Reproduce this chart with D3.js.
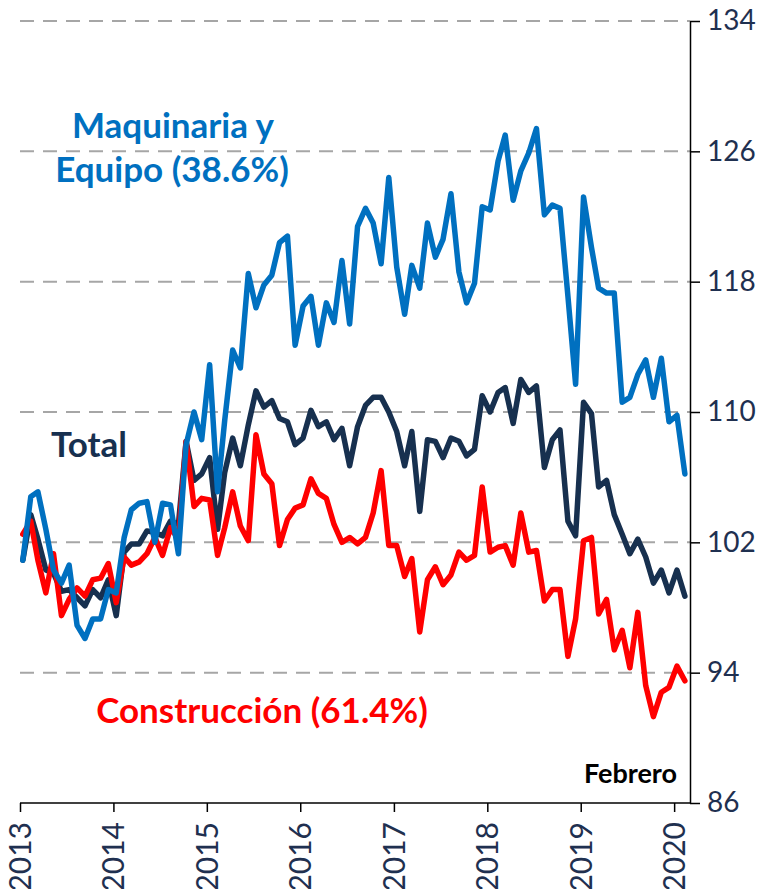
<!DOCTYPE html>
<html lang="es">
<head>
<meta charset="utf-8"/>
<title>Inversión fija bruta</title>
<script src="https://d3js.org/d3.v7.min.js"></script>
<style>
body { margin: 0; background: #fff; }
.grid line { stroke: #a6a6a6; stroke-width: 2; stroke-dasharray: 14, 9; }
.axis path, .axis line { stroke: #000; stroke-width: 1.5; }
.axis text { font-family: Lato, "Open Sans", sans-serif; fill: #1f3050; }
.serie { fill: none; stroke-width: 5.5; stroke-linejoin: round; stroke-linecap: round; }
.lbl { font-family: Lato, "Open Sans", sans-serif; font-weight: bold; }
</style>
</head>
<body>
<div id="chart"></div>
<script>
// monthly values, Jan 2013 .. Feb 2020
var totalValues = [
  100.9, 103.7, 102.2, 100.3, 100.1, 99.0, 99.1, 98.6, 98.1, 99.1, 98.6, 99.7,
  97.5, 101.4, 101.9, 101.9, 102.7, 102.6, 102.4, 103.3, 103.1, 108.2, 105.8, 106.2,
  107.2, 102.8, 106.3, 108.4, 106.7, 109.2, 111.3, 110.3, 110.7, 109.6, 109.4, 108.0,
  108.4, 110.1, 109.1, 109.4, 108.3, 109.0, 106.7, 109.1, 110.4, 110.9, 110.9, 110.0,
  108.8, 106.7, 108.8, 103.9, 108.3, 108.2, 107.2, 108.4, 108.2, 107.3, 107.7, 111.0,
  110.0, 111.2, 111.5, 109.3, 112.0, 111.2, 111.6, 106.6, 108.3, 108.9, 103.3, 102.4,
  110.6, 109.9, 105.4, 105.8, 103.7, 102.5, 101.3, 102.2, 101.1, 99.5, 100.3, 98.9,
  100.3, 98.7
];
var maquinariaValues = [
  100.9, 104.8, 105.1, 102.8, 100.3, 99.5, 100.6, 96.9, 96.1, 97.3, 97.3, 99.1,
  98.9, 102.3, 104.0, 104.4, 104.5, 102.0, 104.4, 104.3, 101.3, 108.0, 110.0, 108.3,
  112.9, 105.1, 109.5, 113.8, 112.7, 118.5, 116.4, 117.8, 118.4, 120.4, 120.8, 114.1,
  116.5, 117.1, 114.1, 116.7, 115.5, 119.3, 115.4, 121.4, 122.5, 121.6, 119.1, 124.4,
  118.9, 116.0, 119.0, 117.6, 121.6, 119.5, 120.6, 123.4, 118.6, 116.7, 117.9, 122.6,
  122.4, 125.4, 127.0, 123.0, 124.8, 125.9, 127.4, 122.1, 122.7, 122.5, 117.1, 111.7,
  123.2, 120.1, 117.6, 117.3, 117.3, 110.6, 110.9, 112.3, 113.2, 110.9, 113.3, 109.4,
  109.8, 106.2
];
var construccionValues = [
  102.5, 103.3, 100.9, 98.9, 101.3, 97.5, 98.5, 99.2, 98.7, 99.7, 99.8, 100.7,
  98.3, 101.1, 100.6, 100.8, 101.3, 102.3, 101.2, 102.9, 102.2, 108.2, 104.2, 104.7,
  104.6, 101.2, 102.9, 105.1, 103.0, 102.1, 108.6, 106.2, 105.6, 101.8, 103.4, 104.1,
  104.3, 105.9, 105.0, 104.7, 103.1, 102.0, 102.3, 101.9, 102.3, 103.8, 106.4, 101.8,
  101.8, 99.9, 101.0, 96.5, 99.7, 100.5, 99.4, 100.0, 101.4, 100.9, 101.2, 105.4,
  101.4, 101.7, 101.8, 100.6, 103.8, 101.4, 101.5, 98.4, 99.1, 99.1, 95.0, 97.3,
  102.1, 102.3, 97.6, 98.5, 95.4, 96.6, 94.3, 97.7, 93.2, 91.3, 92.8, 93.1,
  94.4, 93.5
];
var yearLabels = ["2013", "2014", "2015", "2016", "2017", "2018", "2019", "2020"];
var yTicks = [86, 94, 102, 110, 118, 126, 134];

var w = 769, h = 889;
var padLeft = 20, axisRight = 690, padTop = 21, axisBottom = 803;

var svg = d3.select("#chart").append("svg")
  .attr("width", w).attr("height", h);

// points sit a little after the start of each month
var months = totalValues.map(function(d, i) { return new Date(2013, i, 12); });

var xScale = d3.scaleTime()
  .domain([new Date(2013, 0, 1), new Date(2020, 2, 3)])
  .range([padLeft, axisRight]);
var yScale = d3.scaleLinear()
  .domain([86, 134])
  .range([axisBottom, padTop]);

// dashed gridlines
svg.append("g").attr("class", "grid")
  .selectAll("line")
  .data(yTicks.filter(function(d) { return d > 86; }))
  .join("line")
  .attr("x1", padLeft).attr("x2", axisRight)
  .attr("y1", function(d) { return yScale(d); })
  .attr("y2", function(d) { return yScale(d); });

// x axis
var yearDates = yearLabels.map(function(y) { return new Date(+y, 0, 1); });
var xAxis = d3.axisBottom(xScale)
  .tickValues(yearDates)
  .tickFormat(function(d, i) { return yearLabels[i]; })
  .tickSize(9)
  .tickSizeOuter(0);
var gx = svg.append("g").attr("class", "axis")
  .attr("transform", "translate(0," + axisBottom + ")")
  .call(xAxis);
gx.select(".domain").attr("d", "M" + padLeft + ",0H" + axisRight);
gx.selectAll("text")
  .style("font-size", "30px")
  .attr("text-anchor", "end")
  .attr("transform", "rotate(-90)")
  .attr("x", -19)
  .attr("y", 0)
  .attr("dy", "0.35em");

// right axis
var yAxis = d3.axisRight(yScale)
  .tickValues(yTicks)
  .tickSize(10)
  .tickSizeOuter(0)
  .tickPadding(7);
var gy = svg.append("g").attr("class", "axis")
  .attr("transform", "translate(" + axisRight + ",0)")
  .call(yAxis);
gy.selectAll("text").style("font-size", "28px");

// lines
var line = d3.line()
  .x(function(d, i) { return xScale(months[i]); })
  .y(function(d) { return yScale(d); });

var series = [
  { values: totalValues, color: "#17304f" },
  { values: construccionValues, color: "#ff0000" },
  { values: maquinariaValues, color: "#0070c0" }
];
series.forEach(function(s) {
  svg.append("path")
    .datum(s.values)
    .attr("class", "serie")
    .attr("stroke", s.color)
    .attr("d", line);
});

// labels
function label(txt, x, y, size, color, anchor) {
  svg.append("text")
    .attr("class", "lbl")
    .attr("x", x).attr("y", y)
    .attr("text-anchor", anchor || "middle")
    .style("font-size", size + "px")
    .attr("fill", color)
    .text(txt);
}
label("Maquinaria y", 173, 138, 35, "#0070c0");
label("Equipo (38.6%)", 172, 182, 35, "#0070c0");
label("Total", 89, 457, 35, "#17304f");
label("Construcción (61.4%)", 262, 723, 35, "#ff0000");
label("Febrero", 677, 783, 27, "#000", "end");
</script>
</body>
</html>
